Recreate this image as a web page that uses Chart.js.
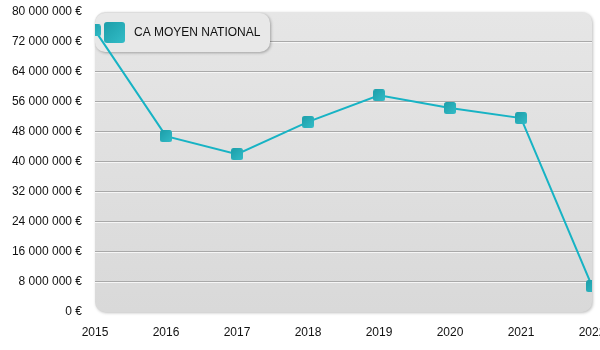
<!DOCTYPE html>
<html>
<head>
<meta charset="utf-8">
<script src="https://cdn.jsdelivr.net/npm/chart.js@4"></script>
<style>
  html, body { margin: 0; padding: 0; background: #fff; overflow: hidden; }
  #wrap { width: 600px; height: 350px; position: relative; }
</style>
</head>
<body>
<div id="wrap"><canvas id="chart"></canvas></div>
<script>
// Données
const annees = ['2015', '2016', '2017', '2018', '2019', '2020', '2021', '2022'];
const caMoyenNational = [75100000, 46900000, 42100000, 50700000, 57800000, 54400000, 51700000, 6900000];
const serieLabel = 'CA MOYEN NATIONAL';

const FONT = 'Arial, "Liberation Sans", Helvetica, sans-serif';

// carré arrondi en dégradé (points + légende)
function makeSquare(size, radius) {
    const c = document.createElement('canvas');
    c.width = size; c.height = size;
    const ctx = c.getContext('2d');
    const g = ctx.createLinearGradient(0, 0, size, size);
    g.addColorStop(0, '#1c9ea9');
    g.addColorStop(1, '#33bcc7');
    ctx.fillStyle = g;
    ctx.beginPath();
    ctx.roundRect(0, 0, size, size, radius);
    ctx.fill();
    return c;
}
const pointImg = makeSquare(12, 2.5);
const legendImg = makeSquare(21, 3);

function roundRectPath(ctx, x, y, w, h, r) {
    ctx.beginPath();
    ctx.roundRect(x, y, w, h, r);
}

// fond + grille + légende dessinés avant les données
const fondPlugin = {
    id: 'fond',
    beforeDatasetsDraw(chart) {
        const { ctx, chartArea: a, scales } = chart;
        ctx.save();
        // ombre du cadre
        ctx.shadowColor = 'rgba(0,0,0,0.25)';
        ctx.shadowBlur = 3;
        ctx.shadowOffsetX = 1;
        ctx.shadowOffsetY = 1;
        const g = ctx.createLinearGradient(0, a.top, 0, a.bottom);
        g.addColorStop(0, '#e6e6e6');
        g.addColorStop(1, '#d9d9d9');
        ctx.fillStyle = g;
        roundRectPath(ctx, a.left, a.top, a.right - a.left, a.bottom - a.top, 10);
        ctx.fill();
        ctx.restore();

        // lignes de grille en relief
        ctx.save();
        const y = scales.y;
        y.ticks.forEach(t => {
            if (t.value <= y.min || t.value >= y.max) return;
            const py = Math.round(y.getPixelForValue(t.value));
            ctx.fillStyle = '#a9a9a9';
            ctx.fillRect(a.left, py - 1, a.right - a.left, 1);
            ctx.fillStyle = '#f6f6f6';
            ctx.fillRect(a.left, py, a.right - a.left, 1);
        });
        ctx.restore();

        // boîte de légende
        ctx.save();
        ctx.shadowColor = 'rgba(0,0,0,0.3)';
        ctx.shadowBlur = 3;
        ctx.shadowOffsetX = 1;
        ctx.shadowOffsetY = 1;
        ctx.fillStyle = '#e8e8e8';
        roundRectPath(ctx, a.left, a.top + 1, 175, 39, 10);
        ctx.fill();
        ctx.restore();
        ctx.save();
        ctx.drawImage(legendImg, a.left + 9, a.top + 10);
        ctx.fillStyle = '#111';
        ctx.font = '12px ' + FONT;
        ctx.textBaseline = 'middle';
        ctx.fillText(serieLabel, a.left + 39, a.top + 21);
        ctx.restore();
    }
};

new Chart(document.getElementById('chart'), {
    type: 'line',
    data: {
        labels: annees,
        datasets: [{
            label: serieLabel,
            data: caMoyenNational,
            borderColor: '#17b3c4',
            borderWidth: 2,
            tension: 0,
            pointStyle: pointImg,
            pointRadius: 6,
            pointHoverRadius: 6,
            clip: 0
        }]
    },
    options: {
        responsive: true,
        maintainAspectRatio: false,
        animation: false,
        layout: { padding: { top: 12, left: 0, right: 5, bottom: 0 } },
        plugins: {
            legend: { display: false },
            tooltip: { enabled: false }
        },
        scales: {
            x: {
                offset: false,
                grid: { display: false, drawTicks: false },
                border: { display: false },
                ticks: {
                    color: '#111',
                    font: { family: FONT, size: 12 },
                    padding: 13,
                    maxRotation: 0,
                    autoSkip: false
                },
                afterFit(scale) {
                    scale.height = 38;
                    scale.paddingRight = 0;
                    scale.paddingLeft = 0;
                }
            },
            y: {
                min: 0,
                max: 80000000,
                grid: { display: false, drawTicks: false },
                border: { display: false },
                ticks: {
                    stepSize: 8000000,
                    color: '#111',
                    font: { family: FONT, size: 12 },
                    padding: 13,
                    callback: v => v.toLocaleString('fr-FR').replace(/[\u202f\u00a0]/g, ' ') + ' €'
                },
                afterFit(scale) {
                    scale.width = 95;
                    scale.paddingTop = 0;
                    scale.paddingBottom = 0;
                }
            }
        }
    },
    plugins: [fondPlugin]
});
</script>
</body>
</html>
